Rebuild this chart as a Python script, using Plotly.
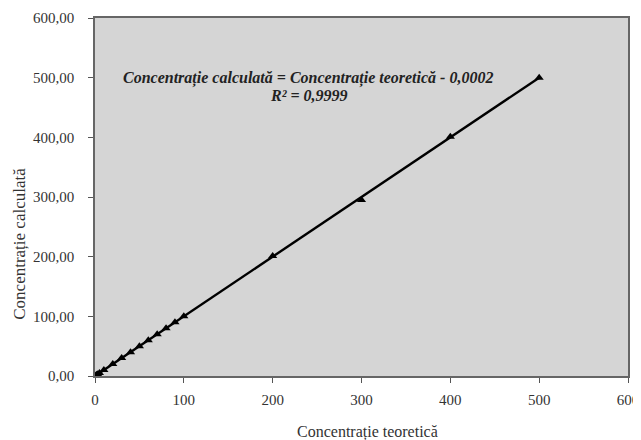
import plotly.graph_objects as go

teoretica = [0, 1, 2, 3, 5, 10, 20, 30, 40, 50, 60, 70, 80, 90, 100, 200, 300, 400, 500]
calculata = [0, 1, 2, 3, 5, 10, 20, 30, 40, 50, 60, 70, 80, 90, 100, 201, 295, 401, 500]
trend_x = [0, 500]
slope = 1.0
intercept = -0.0002
trend_y = [slope * v + intercept for v in trend_x]

x_ticks = [0, 100, 200, 300, 400, 500, 600]
y_ticks = [0, 100, 200, 300, 400, 500, 600]

font = "Liberation Serif, Times New Roman, serif"

fig = go.Figure()
fig.add_trace(go.Scatter(x=trend_x, y=trend_y, mode="lines",
                         line=dict(color="black", width=2.4), showlegend=False, hoverinfo="skip"))
fig.add_trace(go.Scatter(x=teoretica, y=calculata, mode="markers",
                         marker=dict(symbol="triangle-up", size=8, color="black"),
                         showlegend=False))

fig.add_annotation(
    xref="x", yref="y", x=240, y=499, xanchor="center", yanchor="middle",
    text="<b><i>Concentrație calculată = Concentrație teoretică - 0,0002</i></b>",
    showarrow=False, font=dict(family=font, size=16, color="#222"))
fig.add_annotation(
    xref="x", yref="y", x=241, y=470, xanchor="center", yanchor="middle",
    text="<b><i>R² = 0,9999</i></b>",
    showarrow=False, font=dict(family=font, size=16, color="#222"))

fig.add_annotation(
    xref="paper", yref="paper", x=0.512, y=-0.156, xanchor="center", yanchor="middle",
    text="Concentrație teoretică", showarrow=False,
    font=dict(family=font, size=16, color="#333"))
fig.add_annotation(
    xref="paper", yref="paper", x=-0.141, y=0.369, xanchor="center", yanchor="middle",
    text="Concentrație calculată", showarrow=False, textangle=-90,
    font=dict(family=font, size=17, color="#333"))

axis_common = dict(
    showgrid=False, zeroline=False, ticks="outside", ticklen=5, tickcolor="#555",
    showline=True, linecolor="#666", linewidth=1.5, mirror=True, automargin=False,
    tickfont=dict(family=font, size=15, color="#333"),
)

fig.update_xaxes(range=[0, 600], tickvals=x_ticks, ticktext=[str(v) for v in x_ticks],
                 ticklabelstandoff=4, **axis_common)
fig.update_yaxes(range=[0, 600], tickvals=y_ticks, ticktext=[f"{v},00" for v in y_ticks],
                 ticklabelstandoff=11, **axis_common)

# page body has an 8px margin, so the figure is offset by (8, 8)
fig.update_layout(
    width=633, height=432,
    margin=dict(l=87, r=13, t=10, b=64),
    plot_bgcolor="#d5d5d5", paper_bgcolor="white",
    font=dict(family=font),
)

fig.write_html("out.html")
